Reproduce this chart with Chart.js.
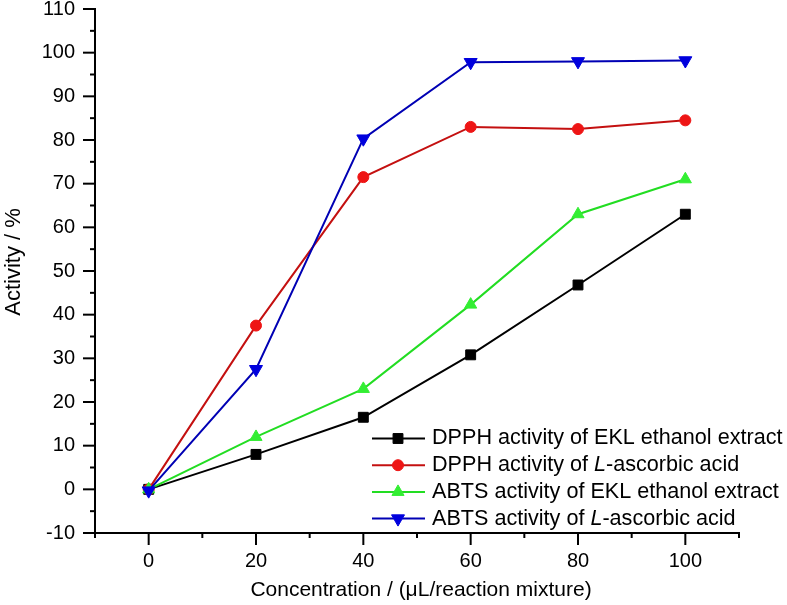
<!DOCTYPE html>
<html>
<head>
<meta charset="utf-8">
<script src="https://cdn.jsdelivr.net/npm/chart.js@4.4.1/dist/chart.umd.min.js"></script>
<style>
html,body{margin:0;padding:0;background:#fff;}
#wrap{width:787px;height:605px;position:relative;}
</style>
</head>
<body>
<div id="wrap"><canvas id="c" width="787" height="605"></canvas></div>
<script>
const concentrations = [0, 20, 40, 60, 80, 100];
const dpphEKL = [0, 8, 16.5, 30.8, 46.8, 63];
const dpphAscorbic = [0, 37.5, 71.5, 83, 82.5, 84.5];
const abtsEKL = [0, 12, 23, 42.3, 63, 71];
const abtsAscorbic = [-0.3, 27.5, 80.3, 97.8, 98, 98.2];
const seriesLabels = [
  "DPPH activity of EKL ethanol extract",
  "DPPH activity of L-ascorbic acid",
  "ABTS activity of EKL ethanol extract",
  "ABTS activity of L-ascorbic acid"
];
const xTickValues = [0, 20, 40, 60, 80, 100];
const yTickValues = [-10, 0, 10, 20, 30, 40, 50, 60, 70, 80, 90, 100, 110];
const xTitle = "Concentration / (\u03bcL/reaction mixture)";
const yTitle = "Activity / %";

const FONT = "'Liberation Sans', Arial, sans-serif";

function pts(vals){ return concentrations.map((x,i)=>({x:x, y:vals[i]})); }

const styles = [
  {line:'#000000', fill:'#000000', pointStyle:'rect', radius:7, rotation:0, order:3},
  {line:'#c41010', fill:'#ee1515', pointStyle:'circle', radius:5.5, rotation:0, order:2},
  {line:'#22dd22', fill:'#33ee33', pointStyle:'triangle', radius:7, rotation:0, order:1},
  {line:'#0000b4', fill:'#0000dd', pointStyle:'triangle', radius:7.5, rotation:180, order:0}
];
const allSeries = [dpphEKL, dpphAscorbic, abtsEKL, abtsAscorbic];

const datasets = allSeries.map((s,i)=>({
  label: seriesLabels[i],
  data: pts(s),
  borderColor: styles[i].line,
  backgroundColor: styles[i].fill,
  pointBackgroundColor: styles[i].fill,
  pointBorderColor: styles[i].fill,
  pointBorderWidth: 1,
  pointStyle: styles[i].pointStyle,
  pointRadius: styles[i].radius,
  pointRotation: styles[i].rotation,
  borderWidth: 2,
  tension: 0,
  order: styles[i].order,
  clip: false
}));

const decorPlugin = {
  id: 'decor',
  afterDraw(chart){
    const ctx = chart.ctx;
    const xs = chart.scales.x, ys = chart.scales.y;
    const ca = chart.chartArea;
    ctx.save();
    ctx.strokeStyle = '#000';
    ctx.lineWidth = 2;
    for (let v = -10; v <= 110; v += 5) {
      const y = ys.getPixelForValue(v);
      const len = (v % 10 === 0) ? 12 : 5;
      ctx.beginPath(); ctx.moveTo(ca.left, y); ctx.lineTo(ca.left - len, y); ctx.stroke();
    }
    for (let v = -10; v <= 110; v += 10) {
      const x = xs.getPixelForValue(v);
      const len = (v % 20 === 0) ? 12 : 5;
      ctx.beginPath(); ctx.moveTo(x, ca.bottom); ctx.lineTo(x, ca.bottom + len); ctx.stroke();
    }
    ctx.fillStyle = '#000';
    ctx.font = '21px ' + FONT;
    ctx.textAlign = 'center';
    ctx.textBaseline = 'middle';
    ctx.fillText(xTitle, (ca.left + ca.right) / 2 + 4, 590);
    ctx.save();
    ctx.translate(14, 262);
    ctx.rotate(-Math.PI / 2);
    ctx.font = '22px ' + FONT;
    ctx.fillText(yTitle, 0, 0);
    ctx.restore();

    const startY = 438.5, step = 26.7;
    chart.data.datasets.forEach((ds, i) => {
      const y = startY + i * step;
      ctx.strokeStyle = ds.borderColor;
      ctx.lineWidth = 2;
      ctx.beginPath(); ctx.moveTo(372, y); ctx.lineTo(425, y); ctx.stroke();
      ctx.fillStyle = ds.pointBackgroundColor;
      ctx.strokeStyle = ds.pointBorderColor;
      ctx.lineWidth = 1;
      Chart.helpers.drawPoint(ctx, {pointStyle: ds.pointStyle, rotation: ds.pointRotation, radius: ds.pointRadius, borderWidth: 1}, 398, y);
      ctx.fillStyle = '#000';
      ctx.textAlign = 'left';
      ctx.textBaseline = 'middle';
      const label = ds.label;
      const m = label.indexOf(' L-');
      let x = 432;
      const normal = '21.6px ' + FONT, ital = 'italic 21.6px ' + FONT;
      if (m >= 0) {
        const parts = [[label.slice(0, m + 1), normal], ['L', ital], [label.slice(m + 2), normal]];
        parts.forEach(p => {
          ctx.font = p[1];
          ctx.fillText(p[0], x, y);
          x += ctx.measureText(p[0]).width;
        });
      } else {
        ctx.font = normal;
        ctx.fillText(label, x, y);
      }
    });
    ctx.restore();
  }
};

new Chart(document.getElementById('c'), {
  type: 'line',
  data: { datasets: datasets },
  plugins: [decorPlugin],
  options: {
    responsive: false,
    animation: false,
    devicePixelRatio: 1,
    layout: { padding: { top: 9, right: 48, left: 0, bottom: 0 } },
    plugins: { legend: { display: false }, tooltip: { enabled: false } },
    scales: {
      x: {
        type: 'linear',
        min: -10, max: 110,
        afterFit(scale){ scale.height = 72; scale.paddingLeft = 0; scale.paddingRight = 0; },
        afterBuildTicks(scale){ scale.ticks = xTickValues.map(v => ({value: v})); },
        grid: { display: false, drawTicks: false },
        border: { display: true, color: '#000', width: 2 },
        ticks: { color: '#000', font: { family: FONT, size: 20 }, padding: 16, maxRotation: 0, autoSkip: false }
      },
      y: {
        type: 'linear',
        min: -10, max: 110,
        afterFit(scale){ scale.width = 95; scale.paddingTop = 0; scale.paddingBottom = 0; },
        afterBuildTicks(scale){ scale.ticks = yTickValues.map(v => ({value: v})); },
        grid: { display: false, drawTicks: false },
        border: { display: true, color: '#000', width: 2 },
        ticks: { color: '#000', font: { family: FONT, size: 20 }, padding: 20, autoSkip: false }
      }
    }
  }
});
</script>
</body>
</html>
